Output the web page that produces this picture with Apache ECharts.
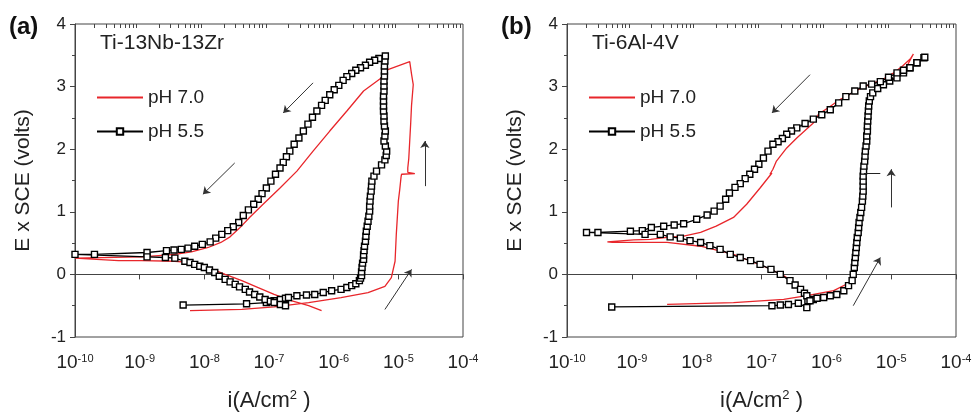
<!DOCTYPE html>
<html>
<head>
<meta charset="utf-8">
<script src="https://cdn.jsdelivr.net/npm/echarts@6/dist/echarts.min.js"></script>
<style>
html, body { margin: 0; padding: 0; background: #fff; }
#main { width: 975px; height: 413px; }
</style>
</head>
<body>
<div id="main"></div>
<script>
// ---- data: [current density (A/cm2), potential (V vs SCE)] ----
var phA70 = [
	[6.0e-9, -0.58], [3.8e-8, -0.56], [1.2e-7, -0.52], [4.1e-7, -0.45], [1.3e-6, -0.37], [3.4e-6, -0.29],
	[6.2e-6, -0.19], [7.8e-6, -0.05], [8.9e-6, 0.21], [9.3e-6, 0.64], [1.0e-5, 1.17], [1.05e-5, 1.35],
	[1.1e-5, 1.55], [1.12e-5, 1.60], [1.8e-5, 1.61], [1.4e-5, 1.63], [1.4e-5, 1.70], [1.45e-5, 1.85],
	[1.5e-5, 2.13], [1.55e-5, 2.40], [1.6e-5, 2.70], [1.7e-5, 3.03], [1.6e-5, 3.20], [1.5e-5, 3.40],
	[6.9e-6, 3.27], [5.5e-6, 3.14], [2.9e-6, 2.93], [1.6e-6, 2.61], [8.7e-7, 2.29], [4.8e-7, 1.97],
	[2.7e-7, 1.65], [1.48e-7, 1.38], [8.1e-8, 1.12], [5.0e-8, 0.91], [3.5e-8, 0.74], [2.5e-8, 0.60],
	[1.8e-8, 0.51], [1.15e-8, 0.43], [6.3e-9, 0.36], [3.5e-9, 0.32], [1.95e-9, 0.30], [1.07e-9, 0.28],
	[1e-10, 0.26],
	[4.7e-10, 0.22], [1.07e-9, 0.22], [3.5e-9, 0.21], [6.3e-9, 0.19], [1.15e-8, 0.11], [2.1e-8, 0.00],
	[3.8e-8, -0.10], [6.8e-8, -0.21], [1.2e-7, -0.32], [2.2e-7, -0.42], [4.1e-7, -0.50], [6.5e-7, -0.58]
];
var phA55 = [
	[4.7e-9, -0.49], [4.5e-8, -0.47], [9.1e-8, -0.45], [1.2e-7, -0.42], [1.5e-7, -0.40], [1.8e-7, -0.38],
	[2.0e-7, -0.37], [2.7e-7, -0.34], [3.8e-7, -0.33], [5.1e-7, -0.32], [6.9e-7, -0.29], [9.3e-7, -0.26],
	[1.3e-6, -0.24], [1.6e-6, -0.21], [1.9e-6, -0.18], [2.2e-6, -0.15], [2.5e-6, -0.10], [2.6e-6, -0.06],
	[2.7e-6, -0.02], [2.7e-6, 0.04], [2.75e-6, 0.11], [2.8e-6, 0.18], [2.9e-6, 0.24], [2.9e-6, 0.31],
	[2.95e-6, 0.38], [3.0e-6, 0.45], [3.1e-6, 0.53], [3.15e-6, 0.61], [3.2e-6, 0.69], [3.3e-6, 0.77],
	[3.4e-6, 0.85], [3.5e-6, 0.93], [3.6e-6, 1.01], [3.6e-6, 1.09], [3.65e-6, 1.17], [3.7e-6, 1.25],
	[3.8e-6, 1.33], [3.85e-6, 1.41], [3.9e-6, 1.49], [4.2e-6, 1.57], [4.6e-6, 1.65], [5.5e-6, 1.75],
	[6.2e-6, 1.83], [6.5e-6, 1.90], [6.6e-6, 1.97], [6.3e-6, 2.05], [6.0e-6, 2.13], [6.2e-6, 2.21],
	[6.3e-6, 2.29], [6.1e-6, 2.37], [6.0e-6, 2.45], [6.0e-6, 2.53], [5.9e-6, 2.61], [5.9e-6, 2.69],
	[5.9e-6, 2.77], [5.9e-6, 2.85], [6.0e-6, 2.93], [6.0e-6, 3.01], [6.0e-6, 3.09], [6.1e-6, 3.17],
	[6.1e-6, 3.25], [6.1e-6, 3.33], [6.2e-6, 3.41], [6.3e-6, 3.49],
	[5.0e-6, 3.45], [4.3e-6, 3.42], [3.6e-6, 3.39], [3.1e-6, 3.34], [2.6e-6, 3.30], [2.2e-6, 3.26],
	[1.9e-6, 3.21], [1.6e-6, 3.16], [1.4e-6, 3.10], [1.2e-6, 3.02], [1.02e-6, 2.95], [8.7e-7, 2.87],
	[7.4e-7, 2.78], [6.5e-7, 2.70], [5.5e-7, 2.61], [4.7e-7, 2.51], [4.0e-7, 2.40], [3.4e-7, 2.29],
	[2.9e-7, 2.18], [2.45e-7, 2.08], [2.1e-7, 1.97], [1.86e-7, 1.88], [1.66e-7, 1.79], [1.48e-7, 1.70],
	[1.26e-7, 1.60], [1.07e-7, 1.49], [9.1e-8, 1.38], [7.8e-8, 1.29], [6.8e-8, 1.20], [5.8e-8, 1.12],
	[4.8e-8, 1.03], [4.0e-8, 0.94], [3.4e-8, 0.83], [2.8e-8, 0.76], [2.3e-8, 0.70], [1.86e-8, 0.64],
	[1.5e-8, 0.58], [1.23e-8, 0.52], [9.3e-9, 0.48], [7.1e-9, 0.45], [5.6e-9, 0.42], [4.4e-9, 0.40],
	[3.4e-9, 0.39], [2.6e-9, 0.38], [1.3e-9, 0.35], [2.0e-10, 0.32], [1e-10, 0.32],
	[1.3e-9, 0.28], [2.5e-9, 0.27], [3.5e-9, 0.26], [5.0e-9, 0.21], [6.0e-9, 0.19], [7.1e-9, 0.16],
	[8.5e-9, 0.13], [1.0e-8, 0.11], [1.2e-8, 0.07], [1.45e-8, 0.03], [1.7e-8, -0.03], [2.1e-8, -0.08],
	[2.5e-8, -0.12], [3.0e-8, -0.16], [3.5e-8, -0.20], [4.3e-8, -0.24], [5.0e-8, -0.28], [6.0e-8, -0.32],
	[7.2e-8, -0.36], [8.7e-8, -0.40], [1.05e-7, -0.43], [1.2e-7, -0.45], [1.5e-7, -0.48], [1.8e-7, -0.50]
];
var phB70 = [
	[3.5e-9, -0.48], [3.7e-8, -0.45], [2.2e-7, -0.40], [5.0e-7, -0.34], [1.3e-6, -0.26], [2.3e-6, -0.13],
	[2.6e-6, 0.00], [2.8e-6, 0.37], [2.95e-6, 0.75], [3.3e-6, 1.17], [3.6e-6, 1.60], [4.0e-6, 2.13],
	[4.4e-6, 2.66], [4.7e-6, 2.82], [5.3e-6, 2.90], [7.6e-6, 3.03], [1.23e-5, 3.16], [1.74e-5, 3.32],
	[2.2e-5, 3.52],
	[2.0e-5, 3.45], [1.5e-5, 3.33], [1.1e-5, 3.22], [7.6e-6, 3.12], [5.2e-6, 3.05], [3.5e-6, 2.98],
	[2.4e-6, 2.89], [1.6e-6, 2.79], [1.1e-6, 2.67], [7.6e-7, 2.56], [6.3e-7, 2.42], [3.5e-7, 2.18],
	[2.45e-7, 2.02], [1.7e-7, 1.81], [1.5e-7, 1.68], [1.35e-7, 1.60], [1.45e-7, 1.62], [9.5e-8, 1.38],
	[5.9e-8, 1.12], [3.7e-8, 0.91], [2.0e-8, 0.77], [1.15e-8, 0.67], [6.3e-9, 0.61], [3.5e-9, 0.59],
	[1.95e-9, 0.56], [1.07e-9, 0.55], [4.2e-10, 0.52],
	[5.0e-10, 0.51], [3.5e-9, 0.51], [1.15e-8, 0.45], [3.7e-8, 0.32], [1.2e-7, 0.11], [2.2e-7, -0.02],
	[4.0e-7, -0.21], [5.6e-7, -0.37]
];
var phB55 = [
	[4.9e-10, -0.52], [1.45e-7, -0.50], [1.95e-7, -0.49], [2.6e-7, -0.48], [3.7e-7, -0.46], [5.0e-7, -0.53],
	[5.2e-7, -0.42], [6.3e-7, -0.40], [7.2e-7, -0.38], [9.1e-7, -0.37], [1.15e-6, -0.34], [1.45e-6, -0.32],
	[1.86e-6, -0.26], [2.2e-6, -0.18], [2.5e-6, -0.10], [2.6e-6, 0.00], [2.7e-6, 0.11], [2.75e-6, 0.19],
	[2.8e-6, 0.27], [2.85e-6, 0.35], [2.9e-6, 0.43], [2.95e-6, 0.51], [3.0e-6, 0.59], [3.1e-6, 0.67],
	[3.15e-6, 0.75], [3.2e-6, 0.83], [3.3e-6, 0.91], [3.4e-6, 0.99], [3.5e-6, 1.07], [3.6e-6, 1.17],
	[3.65e-6, 1.25], [3.7e-6, 1.33], [3.7e-6, 1.41], [3.7e-6, 1.49], [3.7e-6, 1.57], [3.75e-6, 1.65],
	[3.8e-6, 1.73], [3.9e-6, 1.81], [3.95e-6, 1.89], [4.0e-6, 1.97], [4.1e-6, 2.05], [4.2e-6, 2.13],
	[4.2e-6, 2.21], [4.3e-6, 2.29], [4.3e-6, 2.37], [4.35e-6, 2.45], [4.4e-6, 2.53], [4.45e-6, 2.61],
	[4.5e-6, 2.69], [4.6e-6, 2.77], [4.8e-6, 2.84], [5.2e-6, 2.90], [6.2e-6, 2.97], [7.6e-6, 3.03],
	[9.5e-6, 3.09], [1.23e-5, 3.14], [1.55e-5, 3.22], [1.95e-5, 3.30], [2.5e-5, 3.38], [3.2e-5, 3.46],
	[3.3e-5, 3.47],
	[2.5e-5, 3.38], [1.95e-5, 3.30], [1.55e-5, 3.26], [1.23e-5, 3.22], [9.1e-6, 3.15], [6.8e-6, 3.08],
	[5.0e-6, 3.04], [3.7e-6, 3.01], [2.75e-6, 2.93], [2.0e-6, 2.84], [1.55e-6, 2.74], [1.15e-6, 2.63],
	[8.5e-7, 2.55], [6.3e-7, 2.48], [4.7e-7, 2.41], [3.5e-7, 2.34], [2.9e-7, 2.29], [2.45e-7, 2.24],
	[2.1e-7, 2.17], [1.8e-7, 2.12], [1.5e-7, 2.08], [1.26e-7, 1.97], [1.07e-7, 1.86], [9.1e-8, 1.76],
	[7.8e-8, 1.68], [6.6e-8, 1.60], [5.6e-8, 1.53], [4.7e-8, 1.45], [3.9e-8, 1.39], [3.2e-8, 1.30],
	[2.8e-8, 1.20], [2.3e-8, 1.09], [1.86e-8, 1.01], [1.45e-8, 0.95], [1.0e-8, 0.88], [6.3e-9, 0.81],
	[4.5e-9, 0.79], [3.1e-9, 0.77], [2.0e-9, 0.75], [1.45e-9, 0.70], [9.5e-10, 0.69], [3.0e-10, 0.67],
	[2.0e-10, 0.67],
	[1.6e-9, 0.64], [2.75e-9, 0.64], [3.9e-9, 0.60], [5.6e-9, 0.58], [7.9e-9, 0.54], [1.15e-8, 0.51],
	[1.6e-8, 0.46], [2.3e-8, 0.40], [3.3e-8, 0.32], [4.7e-8, 0.27], [6.8e-8, 0.22], [9.5e-8, 0.16],
	[1.4e-7, 0.08], [1.95e-7, 0.00], [2.75e-7, -0.10], [3.3e-7, -0.17], [4.0e-7, -0.24], [4.6e-7, -0.30],
	[5.0e-7, -0.34], [5.6e-7, -0.42]
];
// scan-direction arrows, [from, to]
var arrowsA = [
	[[4.8e-7, 3.06], [1.66e-7, 2.58]],
	[[2.95e-8, 1.78], [9.5e-9, 1.28]],
	[[2.57e-5, 1.41], [2.57e-5, 2.13]],
	[[6.2e-6, -0.56], [1.6e-5, 0.08]]
];
var arrowsB = [
	[[5.6e-7, 3.19], [1.45e-7, 2.58]],
	[[1.0e-5, 1.07], [1.0e-5, 1.68]],
	[[2.6e-6, -0.50], [6.8e-6, 0.27]]
];
var stepB = [[3.8e-6, 1.61], [6.8e-6, 1.61]];
var alloys = ['Ti-13Nb-13Zr', 'Ti-6Al-4V'];
var panels = ['(a)', '(b)'];
var names = ['pH 7.0', 'pH 5.5'];
var minorX = [];
[-10, -9, -8, -7, -6, -5].forEach(function (e) {
	for (var k = 2; k <= 9; k++) minorX.push(k * Math.pow(10, e));
});

var FONT = '"Liberation Sans", Arial, sans-serif';
var INK = '#222';
var AX = '#444';
var RED = '#e8262b';

var MyChart = echarts.init(document.getElementById('main'));

var grids = [
	{ left: 75, top: 24, width: 388, height: 313 },
	{ left: 567, top: 24, width: 389, height: 313 }
];

var xAxes = [], yAxes = [], series = [], legends = [], texts = [];

grids.forEach(function (g, k) {
	g.show = true;
	g.borderColor = AX;
	g.borderWidth = 1;
	g.containLabel = false;
	g.outerBoundsMode = 'none';
	xAxes.push({
		type: 'log', logBase: 10, min: 1e-10, max: 1e-4, gridIndex: k,
		axisLine: { lineStyle: { color: AX, width: 1 } },
		axisTick: { length: 5, lineStyle: { color: AX } },
		splitLine: { show: false },
		axisLabel: {
			margin: 16, color: INK,
			formatter: function (v) {
				return '{b|10}{s|' + Math.round(Math.log(v) / Math.LN10) + '}';
			},
			rich: {
				b: { fontSize: 19, fontFamily: FONT, color: INK, lineHeight: 20 },
				s: { fontSize: 11, fontFamily: FONT, color: INK, lineHeight: 11, verticalAlign: 'top' }
			}
		},
		name: '{n|i(A/cm}{s|2}{n| )}',
		nameLocation: 'middle',
		nameGap: 52,
		nameTextStyle: {
			rich: {
				n: { fontSize: 22, fontFamily: FONT, color: INK, lineHeight: 24 },
				s: { fontSize: 13, fontFamily: FONT, color: INK, lineHeight: 13, verticalAlign: 'top' }
			}
		}
	});
	// inward minor ticks of the log axis
	xAxes.push({
		type: 'log', logBase: 10, min: 1e-10, max: 1e-4, gridIndex: k,
		axisLine: { show: false },
		axisLabel: { show: false },
		splitLine: { show: false },
		axisTick: { inside: true, length: 4, customValues: minorX, lineStyle: { color: AX } }
	});
	yAxes.push({
		type: 'value', min: -1, max: 4, interval: 1, gridIndex: k,
		axisLine: { show: true, lineStyle: { color: AX, width: 1 } },
		axisTick: { show: true, length: 5, lineStyle: { color: AX } },
		minorTick: { show: true, splitNumber: 2, length: 3, lineStyle: { color: AX } },
		splitLine: { show: false },
		axisLabel: { fontSize: 17, fontFamily: FONT, color: INK, margin: 9 },
		name: 'E x SCE (volts)',
		nameLocation: 'middle',
		nameGap: 41,
		nameTextStyle: { fontSize: 21, fontFamily: FONT, color: INK }
	});
	legends.push({
		left: g.left + 16, top: 83, orient: 'vertical',
		itemWidth: 46, itemHeight: 8, itemGap: 15,
		textStyle: { fontSize: 19, fontFamily: FONT, color: INK },
		data: [{ name: names[0], itemStyle: { opacity: 0 } }, names[1]]
	});
	texts.push({
		type: 'text', left: g.left + 25, top: 33,
		style: { text: alloys[k], font: '21px ' + FONT, fill: INK }
	});
	texts.push({
		type: 'text', left: g.left - 66, top: 15,
		style: { text: panels[k], font: 'bold 24px ' + FONT, fill: '#111' }
	});
});

var sets = [[phA70, phA55, arrowsA], [phB70, phB55, arrowsB]];
sets.forEach(function (s, k) {
	series.push({
		name: names[0], type: 'line', xAxisIndex: 2 * k, yAxisIndex: k,
		data: s[0], symbol: 'none', smooth: false,
		lineStyle: { color: RED, width: 1.3 }, itemStyle: { color: RED },
		z: 2
	});
	series.push({
		name: names[1], type: 'line', xAxisIndex: 2 * k, yAxisIndex: k,
		data: s[1], symbol: 'rect', symbolSize: 6,
		lineStyle: { color: '#000', width: 1.3 },
		itemStyle: { color: '#fff', borderColor: '#000', borderWidth: 1.4 },
		z: 3
	});
	series.push({
		type: 'lines', coordinateSystem: 'cartesian2d', xAxisIndex: 2 * k, yAxisIndex: k,
		symbol: ['none', 'arrow'], symbolSize: 7, silent: true,
		lineStyle: { color: '#333', width: 1, opacity: 1 },
		data: s[2].map(function (a) { return { coords: a }; }),
		z: 4
	});
});
series.push({
	type: 'lines', coordinateSystem: 'cartesian2d', xAxisIndex: 2, yAxisIndex: 1,
	symbol: 'none', silent: true,
	lineStyle: { color: '#222', width: 1, opacity: 1 },
	data: [{ coords: stepB }],
	z: 4
});

option = {
	animation: false,
	backgroundColor: '#fff',
	textStyle: { fontFamily: FONT },
	grid: grids,
	xAxis: xAxes,
	yAxis: yAxes,
	legend: legends,
	graphic: texts,
	series: series
};
MyChart.setOption(option);
window.onresize = MyChart.resize;
</script>
</body>
</html>
